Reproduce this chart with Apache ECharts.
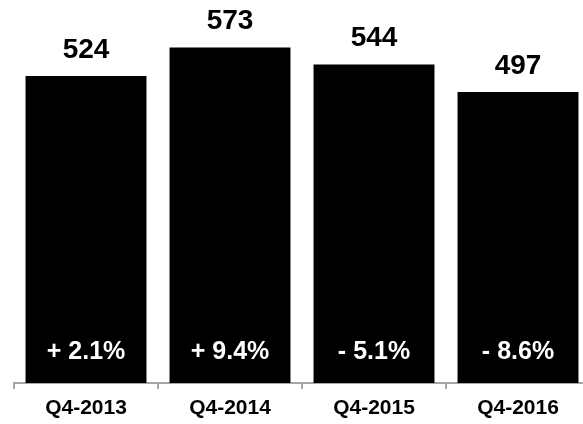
<!DOCTYPE html>
<html>
<head>
<meta charset="utf-8">
<script src="https://cdn.jsdelivr.net/npm/echarts@6/dist/echarts.min.js"></script>
<style>
html,body{margin:0;padding:0;background:#fff;}
#c{width:583px;height:424px;}
</style>
</head>
<body>
<div id="c"></div>
<script>
const categories = ['Q4-2013', 'Q4-2014', 'Q4-2015', 'Q4-2016'];
const values = [524, 573, 544, 497];
const changes = ['+ 2.1%', '+ 9.4%', '- 5.1%', '- 8.6%'];

const FONT = '"Liberation Sans", Arial, Helvetica, sans-serif';
const chart = echarts.init(document.getElementById('c'), null, {renderer: 'canvas'});
chart.setOption({
  animation: false,
  backgroundColor: '#ffffff',
  grid: {left: 14, width: 576, top: 31.6, bottom: 41, containLabel: false, outerBoundsMode: 'none'},
  xAxis: {
    type: 'category',
    data: categories,
    axisLine: {show: true, lineStyle: {color: '#a6a6a6', width: 2}},
    axisTick: {show: true, length: 6, lineStyle: {color: '#a6a6a6', width: 2}},
    axisLabel: {color: '#000', fontFamily: FONT, fontWeight: 'bold', fontSize: 21, margin: 15}
  },
  yAxis: {
    type: 'value', min: 0, max: 600,
    show: false,
    splitLine: {show: false}
  },
  series: [
    {
      type: 'bar',
      data: values,
      barWidth: '84%',
      itemStyle: {color: '#000'},
      label: {
        show: true, position: 'top', distance: 12,
        color: '#000', fontFamily: FONT, fontWeight: 'bold', fontSize: 28
      }
    },
    {
      type: 'bar',
      data: values,
      barWidth: '84%',
      barGap: '-100%',
      itemStyle: {color: 'transparent'},
      silent: true,
      label: {
        show: true, position: 'insideBottom', distance: 18,
        color: '#fff', fontFamily: FONT, fontWeight: 'bold', fontSize: 25,
        formatter: function (p) { return changes[p.dataIndex]; }
      }
    }
  ]
});
</script>
</body>
</html>
